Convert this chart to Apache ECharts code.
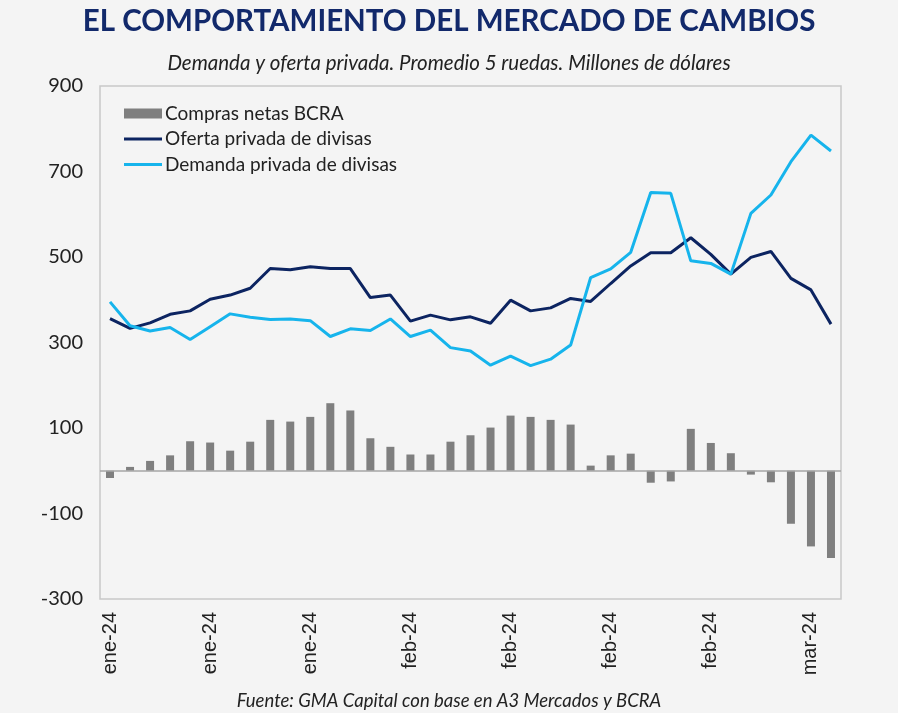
<!DOCTYPE html>
<html>
<head>
<meta charset="utf-8">
<script src="https://cdn.jsdelivr.net/npm/echarts@6/dist/echarts.min.js"></script>
<style>
html,body{margin:0;padding:0;background:#f4f4f4;}
#chart{width:898px;height:713px;}
</style>
</head>
<body>
<div id="chart"></div>
<script>
// Trading days (category axis)
const categories = [
  '11/01/24','12/01/24','15/01/24','16/01/24','17/01/24','18/01/24','19/01/24','22/01/24','23/01/24','24/01/24',
  '25/01/24','26/01/24','29/01/24','30/01/24','31/01/24','01/02/24','02/02/24','05/02/24','06/02/24','07/02/24',
  '08/02/24','09/02/24','14/02/24','15/02/24','16/02/24','19/02/24','20/02/24','21/02/24','22/02/24','23/02/24',
  '26/02/24','27/02/24','28/02/24','29/02/24','01/03/24','04/03/24','05/03/24'
];
const monthNames = ['ene','feb','mar','abr','may','jun','jul','ago','sep','oct','nov','dic'];

const comprasNetas = [
  -17, 9, 23, 36, 69, 66, 47, 68, 119, 115,
  126, 158, 141, 76, 56, 38, 38, 68, 83, 101,
  129, 126, 119, 108, 12, 36, 40, -28, -25, 98,
  65, 41, -9, -27, -124, -177, -204
];
const ofertaPrivada = [
  356, 333, 346, 366, 374, 401, 411, 427, 473, 470,
  477, 473, 473, 405, 411, 350, 364, 353, 360, 345,
  399, 374, 381, 403, 396, 438, 479, 510, 510, 545,
  506, 460, 499, 513, 450, 423, 343
];
const demandaPrivada = [
  395, 339, 327, 335, 307, 337, 367, 359, 354, 355,
  351, 314, 332, 328, 355, 314, 329, 288, 280, 247,
  268, 246, 261, 294, 452, 472, 511, 651, 649, 491,
  485, 460, 602, 645, 723, 785, 748
];
const yTicks = [-300, -100, 100, 300, 500, 700, 900];

const lineIcon = 'path://M0,0 L38,0 L38,3 L0,3 Z';

const chart = echarts.init(document.getElementById('chart'));
chart.setOption({
  backgroundColor: '#f4f4f4',
  animation: false,
  title: [
    {
      text: 'EL COMPORTAMIENTO DEL MERCADO DE CAMBIOS',
      left: 'center', top: 1,
      textStyle: {fontFamily: 'Lato', fontWeight: 'bold', fontSize: 29.5, color: '#12296b'}
    },
    {
      text: 'Demanda y oferta privada. Promedio 5 ruedas. Millones de dólares',
      left: 'center', top: 48,
      textStyle: {fontFamily: 'Lato', fontStyle: 'italic', fontWeight: 'normal', fontSize: 20.5, color: '#222'}
    },
    {
      text: 'Fuente: GMA Capital con base en A3 Mercados y BCRA',
      left: 'center', top: 687,
      textStyle: {fontFamily: 'Lato', fontStyle: 'italic', fontWeight: 'normal', fontSize: 18.5, color: '#222'}
    }
  ],
  legend: {
    orient: 'vertical',
    left: 119, top: 99,
    itemWidth: 38, itemHeight: 10, itemGap: 6.5,
    textStyle: {fontFamily: 'Lato', fontSize: 19, color: '#222', padding: [0,0,0,-2]},
    data: [
      {name: 'Compras netas BCRA', icon: 'rect'},
      {name: 'Oferta privada de divisas', icon: lineIcon},
      {name: 'Demanda privada de divisas', icon: lineIcon}
    ]
  },
  grid: {
    left: 100, right: 57, top: 86, bottom: 114,
    show: true, borderColor: '#c8c8c8', borderWidth: 1.5, backgroundColor: 'transparent'
  },
  xAxis: {
    type: 'category',
    data: categories,
    boundaryGap: true,
    axisLine: {show: false, onZero: false},
    axisTick: {show: false},
    axisLabel: {
      interval: 4,
      rotate: 90,
      margin: 13,
      fontFamily: 'Liberation Sans',
      fontSize: 20,
      color: '#222',
      formatter: function (v) {
        const p = v.split('/');
        return monthNames[parseInt(p[1], 10) - 1] + '-' + p[2];
      }
    }
  },
  yAxis: {
    type: 'value',
    min: -300, max: 900, interval: 200,
    splitLine: {show: false},
    axisLine: {show: false},
    axisTick: {show: false},
    axisLabel: {
      fontFamily: 'Lato', fontSize: 20, color: '#222', margin: 17,
      formatter: function (v) { return yTicks.indexOf(v) >= 0 ? String(v) : ''; }
    }
  },
  series: [
    {
      name: 'Compras netas BCRA',
      type: 'bar',
      data: comprasNetas,
      barWidth: 8,
      itemStyle: {color: '#7f7f7f'},
      markLine: {
        silent: true, symbol: 'none', label: {show: false},
        lineStyle: {color: '#a6a6a6', width: 1.5, type: 'solid'},
        data: [{yAxis: 0}]
      },
      z: 2
    },
    {
      name: 'Oferta privada de divisas',
      type: 'line',
      data: ofertaPrivada,
      symbol: 'none',
      lineStyle: {color: '#0c2461', width: 3},
      itemStyle: {color: '#0c2461'},
      z: 3
    },
    {
      name: 'Demanda privada de divisas',
      type: 'line',
      data: demandaPrivada,
      symbol: 'none',
      lineStyle: {color: '#16b4ec', width: 3},
      itemStyle: {color: '#16b4ec'},
      z: 4
    }
  ]
});
</script>
</body>
</html>
